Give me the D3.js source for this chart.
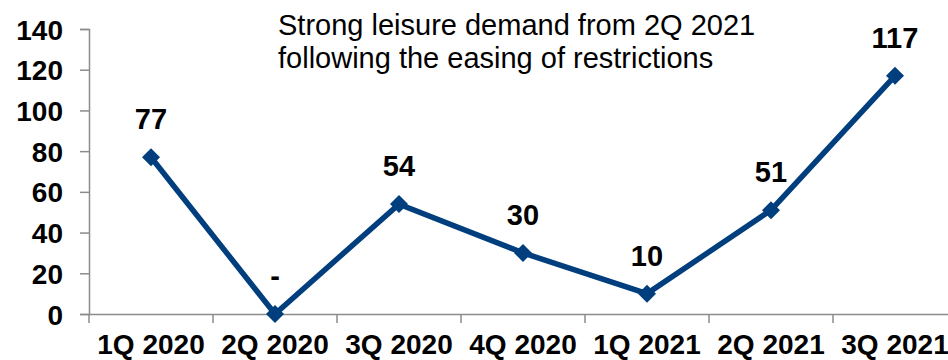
<!DOCTYPE html>
<html>
<head>
<meta charset="utf-8">
<script src="https://cdn.jsdelivr.net/npm/d3@7"></script>
<style>
  html, body { margin: 0; padding: 0; background: #fff; }
  svg { display: block; font-family: Arial, "Liberation Sans", sans-serif; }
</style>
</head>
<body>
<svg id="chart" width="948" height="360"></svg>
<script>
// Quarterly values
const categories = ["1Q 2020", "2Q 2020", "3Q 2020", "4Q 2020", "1Q 2021", "2Q 2021", "3Q 2021"];
const values = [77, 0, 54, 30, 10, 51, 117];
const valueLabels = ["77", "-", "54", "30", "10", "51", "117"];
const yTicks = [0, 20, 40, 60, 80, 100, 120, 140];
const noteLines = ["Strong leisure demand from 2Q 2021", "following the easing of restrictions"];

const svg = d3.select("#chart");
const x0 = 89, y0 = 314, yTop = 29, band = 124;

const x = d3.scaleBand().domain(categories).range([x0, x0 + band * categories.length]).paddingInner(0).paddingOuter(0);
const y = d3.scaleLinear().domain([0, 140]).range([y0, yTop]);

const axisColor = "#8c8c8c";
const lineColor = "#003e7e";
const font = "Arial, 'Liberation Sans', sans-serif";

// Y axis
const yAxis = svg.append("g").attr("transform", `translate(${x0},0)`)
  .call(d3.axisLeft(y).tickValues(yTicks).tickSize(9).tickPadding(17));
yAxis.select(".domain").attr("stroke", axisColor).attr("stroke-width", 1.5);
yAxis.selectAll(".tick line").attr("stroke", axisColor).attr("stroke-width", 1.5);
yAxis.selectAll(".tick text").attr("fill", "#000").style("font-size", "28px").style("font-weight", "bold")
  .style("font-family", font).attr("dy", "0.36em");

// X axis
const xAxis = svg.append("g").attr("transform", `translate(0,${y0})`)
  .call(d3.axisBottom(x).tickSize(0).tickPadding(0));
xAxis.select(".domain").attr("stroke", axisColor).attr("stroke-width", 1.5)
  .attr("d", `M${x0},0.5H${x0 + band * categories.length}`);
xAxis.selectAll(".tick text").attr("fill", "#000").attr("y", 40).attr("dy", 0)
  .style("font-size", "28px").style("font-weight", "bold")
  .style("font-family", font);
// category boundary ticks
svg.append("g").selectAll("line").data(d3.range(categories.length + 1)).join("line")
  .attr("x1", i => x0 + i * band).attr("x2", i => x0 + i * band)
  .attr("y1", y0).attr("y2", y0 + 9)
  .attr("stroke", axisColor).attr("stroke-width", 1.5);

const cx = d => x(d) + x.bandwidth() / 2;
const pts = categories.map((c, i) => ({ c, v: values[i], label: valueLabels[i] }));

// Line
svg.append("path").datum(pts)
  .attr("fill", "none").attr("stroke", lineColor).attr("stroke-width", 5.5).attr("stroke-linejoin", "miter")
  .attr("d", d3.line().x(d => cx(d.c)).y(d => y(d.v)));

// Diamond markers
svg.append("g").selectAll("path").data(pts).join("path")
  .attr("transform", d => `translate(${cx(d.c)},${y(d.v)})`)
  .attr("d", "M0,-9L9,0L0,9L-9,0Z").attr("fill", lineColor);

// Value labels
svg.append("g").selectAll("text").data(pts).join("text")
  .attr("x", d => cx(d.c)).attr("y", d => y(d.v) - 28)
  .attr("text-anchor", "middle").attr("fill", "#000")
  .style("font-size", "29px").style("font-weight", "bold")
  .text(d => d.label);

// Note
svg.append("text").attr("x", 278).attr("y", 35).attr("fill", "#000").style("font-size", "29px")
  .selectAll("tspan").data(noteLines).join("tspan")
  .attr("x", 278).attr("dy", (d, i) => i === 0 ? 0 : 33).text(d => d);
</script>
</body>
</html>
